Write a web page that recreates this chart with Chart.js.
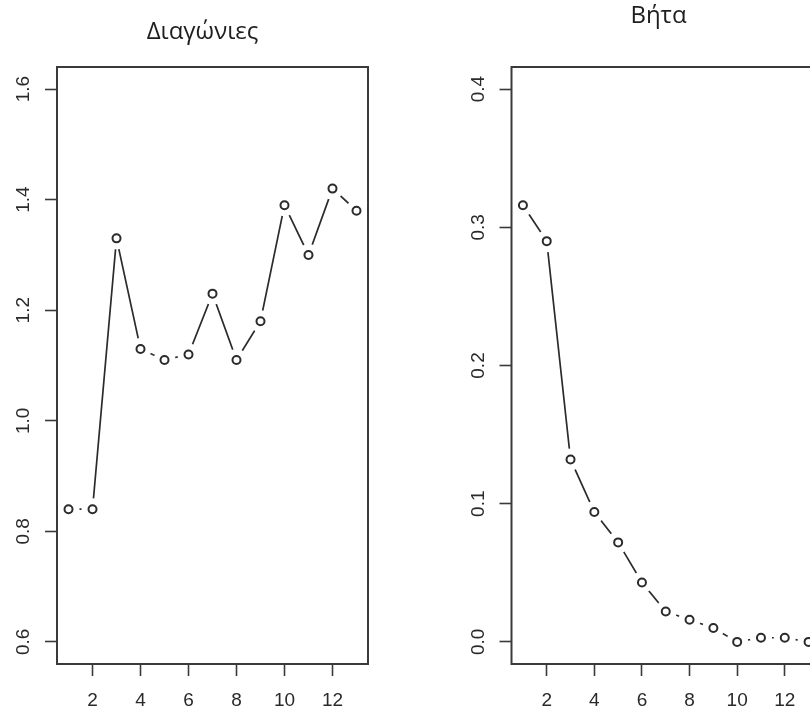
<!DOCTYPE html>
<html>
<head>
<meta charset="utf-8">
<script src="https://cdn.jsdelivr.net/npm/chart.js@4"></script>
<style>
  html, body { margin: 0; padding: 0; background: #fff; overflow: hidden; width: 810px; height: 713px; }
  .panel { position: absolute; top: 0; height: 713px; }
  #left { left: 0; width: 405px; }
  #right { left: 440px; width: 415px; }
</style>
</head>
<body>
<div class="panel" id="left"><canvas id="chartLeft"></canvas></div>
<div class="panel" id="right"><canvas id="chartRight"></canvas></div>
<script>
// component index 1..13
const steps = [1, 2, 3, 4, 5, 6, 7, 8, 9, 10, 11, 12, 13];
const diagonals = [0.84, 0.84, 1.33, 1.13, 1.11, 1.12, 1.23, 1.11, 1.18, 1.39, 1.30, 1.42, 1.38];
const betas = [0.316, 0.290, 0.132, 0.094, 0.072, 0.043, 0.022, 0.016, 0.010, 0.000, 0.003, 0.003, 0.000];

const xTicks = [2, 4, 6, 8, 10, 12];
const diagTicks = [0.6, 0.8, 1.0, 1.2, 1.4, 1.6];
const betaTicks = [0.0, 0.1, 0.2, 0.3, 0.4];

const ink = '#2b2b2b';
const axisInk = '#3a3a3a';
const tickFont = { family: "'Liberation Sans', Arial, sans-serif", size: 19 };

// box around the plot region, like R's bty="o"
const frame = {
  id: 'frame',
  afterDatasetsDraw(chart) {
    const { ctx, chartArea: a } = chart;
    ctx.save();
    ctx.strokeStyle = axisInk;
    ctx.lineWidth = 2;
    ctx.strokeRect(a.left, a.top, a.right - a.left, a.bottom - a.top);
    ctx.restore();
  }
};

function makePanel(id, title, values, yMin, yMax, yTicks, pad) {
  const pts = steps.map((s, i) => ({ x: s, y: values[i] }));
  const scales = {
    x: {
      type: 'linear',
      min: 0.52,
      max: 13.48,
      afterBuildTicks: (scale) => { scale.ticks = xTicks.map(v => ({ value: v })); },
      afterFit: (scale) => { scale.height = 49; },
      border: { display: false },
      grid: { drawOnChartArea: false, tickLength: 12, tickWidth: 1.6, tickColor: axisInk },
      ticks: { font: tickFont, color: '#2a2a2a', padding: 13, maxRotation: 0,
               callback: (v) => String(v) }
    },
    y: {
      min: yMin,
      max: yMax,
      afterBuildTicks: (scale) => { scale.ticks = yTicks.map(v => ({ value: v })); },
      afterFit: (scale) => { scale.width = pad.yWidth; },
      border: { display: false },
      grid: { drawOnChartArea: false, tickLength: 12, tickWidth: 1.6, tickColor: axisInk },
      ticks: { font: tickFont, color: '#2a2a2a', padding: 8, minRotation: 90, maxRotation: 90,
               crossAlign: 'center', callback: (v) => Number(v).toFixed(1) }
    },
    // empty strip on the right so the title sits where it does in the picture
    spacer: {
      type: 'linear', position: 'right',
      grid: { display: false }, border: { display: false }, ticks: { display: false },
      afterFit: (scale) => { scale.width = pad.spacer; }
    }
  };
  return new Chart(document.getElementById(id), {
    type: 'line',
    data: {
      datasets: [
        // the connecting line
        { data: pts, borderColor: ink, borderWidth: 1.7, pointRadius: 0, order: 3 },
        // white discs to leave the gaps of type="b"
        { data: pts, showLine: false, pointRadius: 11, pointBorderWidth: 0,
          pointBackgroundColor: '#fff', order: 2 },
        // open circles
        { data: pts, showLine: false, pointRadius: 4, pointBorderWidth: 2,
          pointBorderColor: ink, pointBackgroundColor: '#fff', order: 1 }
      ]
    },
    options: {
      responsive: true,
      maintainAspectRatio: false,
      animation: false,
      events: [],
      layout: { padding: { left: pad.left, right: 0, top: 0, bottom: 0 } },
      plugins: {
        legend: { display: false },
        tooltip: { enabled: false },
        title: {
          display: true,
          text: title,
          color: '#1e1e1e',
          font: { family: "'Open Sans', 'Noto Sans', sans-serif", size: 24, weight: 'normal' },
          padding: { top: pad.titleTop, bottom: pad.titleBottom }
        }
      },
      scales: scales
    },
    plugins: [frame]
  });
}

window.addEventListener('DOMContentLoaded', () => {
  makePanel('chartLeft', 'Διαγώνιες', diagonals, 0.56, 1.64, diagTicks,
    { left: 0, yWidth: 57, spacer: 37, titleTop: 17.6, titleBottom: 20.6 });
  makePanel('chartRight', 'Βήτα', betas, -0.016, 0.416, betaTicks,
    { left: 22, yWidth: 49.5, spacer: 35, titleTop: 2.1, titleBottom: 36.1 });
});
</script>
</body>
</html>
